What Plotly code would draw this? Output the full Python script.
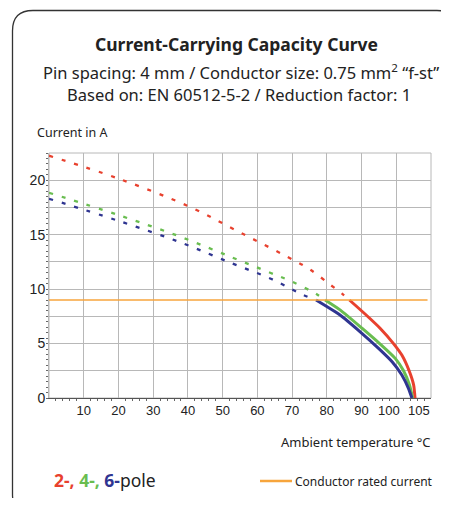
import plotly.graph_objects as go

# ---------------- data ----------------
red_dot_x = [0, 20, 40.6, 54.7, 62, 69, 74.9, 81, 84.3, 86.5]
red_dot_y = [22.25, 20.15, 17.55, 15.25, 14.07, 12.9, 11.86, 10.4, 9.6, 9.0]
red_sol_x = [86.5, 91.4, 95.4, 99.2, 101.6, 103.7, 105.0, 105.4]
red_sol_y = [9.0, 7.6, 6.39, 5.0, 3.94, 2.5, 1.19, 0.0]

green_dot_x = [0, 20, 37.9, 52.8, 63.7, 69.9, 76.7, 79.5]
green_dot_y = [18.85, 16.8, 14.8, 12.9, 11.5, 10.7, 9.6, 9.0]
green_sol_x = [79.5, 83.9, 90.2, 95.2, 99.7, 102.1, 103.8, 104.7]
green_sol_y = [9.0, 8.07, 6.39, 5.0, 3.64, 2.5, 1.19, 0.0]

blue_dot_x = [0, 20, 38.2, 52.8, 63.7, 70, 73.3, 76.9]
blue_dot_y = [18.3, 16.27, 14.25, 12.35, 10.98, 9.97, 9.45, 9.0]
blue_sol_x = [76.9, 83.9, 89.6, 94.9, 98.8, 101.6, 103.5, 104.5]
blue_sol_y = [9.0, 7.6, 6.08, 4.56, 3.33, 2.11, 0.89, 0.0]

rated_x = [0, 109]
rated_y = [9, 9]

x_tick_vals = [10, 20, 30, 40, 50, 60, 70, 80, 90]
x_tick_text = ["10", "20", "30", "40", "50", "60", "70", "80", "90"]
x_end_vals = [100, 105]
x_end_text = ["100", "105"]
y_tick_vals = [0, 2.5, 5, 7.5, 10, 12.5, 15, 17.5, 20]
y_tick_text = ["0", "", "5", "", "10", "", "15", "", "20"]

RED = "#e8412e"
GREEN = "#69bd50"
BLUE = "#2f3591"
ORANGE = "#f7a53c"
GRID = "#b8b8b8"
TXT = "#222222"

OFF = 8  # page body margin
W, H = 449 - OFF, 506 - 2 * OFF
L, R, T, B = 49 - OFF, 18, 153 - OFF, 100
PW, PH = W - L - R, H - T - B


def px(x):
    return (x - OFF - L) / PW


def py(y):
    return (H - B - (y - OFF)) / PH


fig = go.Figure()

DASH = "4px,9px"
for xs, ys, c in [(red_dot_x, red_dot_y, RED), (green_dot_x, green_dot_y, GREEN),
                  (blue_dot_x, blue_dot_y, BLUE)]:
    fig.add_trace(go.Scatter(x=xs, y=ys, mode="lines",
                             line=dict(color=c, width=2.3, dash=DASH, shape="spline"),
                             hoverinfo="skip", showlegend=False))

fig.add_trace(go.Scatter(x=rated_x, y=rated_y, mode="lines", xaxis="x2",
                         line=dict(color=ORANGE, width=1.6),
                         hoverinfo="skip", showlegend=False))

for xs, ys, c in [(red_sol_x, red_sol_y, RED), (green_sol_x, green_sol_y, GREEN),
                  (blue_sol_x, blue_sol_y, BLUE)]:
    fig.add_trace(go.Scatter(x=xs, y=ys, mode="lines",
                             line=dict(color=c, width=3, shape="spline", smoothing=0.6),
                             hoverinfo="skip", showlegend=False))

# rounded outer frame (right and bottom sides fall outside the picture)
frame = (f"M {px(15)} {py(506)} Q {px(12.5)} {py(502)} {px(12.5)} {py(494)} "
         f"L {px(12.5)} {py(31)} Q {px(12.5)} {py(10.5)} {px(33)} {py(10.5)} "
         f"L {px(437)} {py(10.5)} Q {px(446)} {py(10.5)} {px(448.5)} {py(15)}")

shapes = [
    dict(type="path", path=frame, xref="paper", yref="paper",
         line=dict(color="#333333", width=1.3), layer="below"),
    dict(type="rect", xref="paper", yref="paper", x0=0, x1=1, y0=0, y1=1,
         line=dict(color=GRID, width=1), layer="below"),
    dict(type="line", xref="paper", yref="paper", x0=px(260), x1=px(292),
         y0=py(481), y1=py(481), line=dict(color=ORANGE, width=2.5)),
]

FONT = "Noto Sans"
annotations = [
    dict(text="<b>Current-Carrying Capacity Curve</b>", x=px(236), y=py(44),
         font=dict(size=17.5, color=TXT, family=FONT)),
    dict(text="Pin spacing: 4 mm / Conductor size: 0.75 mm<sup>2</sup> \u201cf-st\u201d",
         x=px(241), y=py(72), font=dict(size=16.5, color=TXT, family=FONT)),
    dict(text="Based on: EN 60512-5-2 / Reduction factor: 1",
         x=px(239), y=py(94), font=dict(size=16.5, color=TXT, family=FONT)),
    dict(text="Current in A", x=px(35), y=py(133), xanchor="left",
         font=dict(size=12.5, color=TXT, family=FONT)),
    dict(text="Ambient temperature \u00b0C", x=px(433), y=py(442), xanchor="right",
         font=dict(size=13, color=TXT, family=FONT)),
    dict(text=(f"<b><span style='color:{RED}'>2-,</span> "
               f"<span style='color:{GREEN}'>4-,</span> "
               f"<span style='color:{BLUE}'>6-</span></b>pole"),
         x=px(52), y=py(480), xanchor="left",
         font=dict(size=17.5, color=TXT, family=FONT)),
    dict(text="Conductor rated current", x=px(435), y=py(481), xanchor="right",
         font=dict(size=12, color=TXT, family=FONT)),
]
for a in annotations:
    a.update(xref="paper", yref="paper", showarrow=False)
    a.setdefault("xanchor", "center")
    a.setdefault("yanchor", "middle")

# end tick labels (100 / 105) nudged apart as in the original
for v, t, sh in zip(x_end_vals, x_end_text, [-7, 5]):
    annotations.append(dict(text=t, x=v, xref="x", y=0, yref="paper",
                            xanchor="center", yanchor="top", yshift=-3, xshift=sh,
                            showarrow=False,
                            font=dict(family="Liberation Sans", size=13, color=TXT)))

fig.update_layout(
    width=W, height=H,
    margin=dict(l=L, r=R, t=T, b=B),
    paper_bgcolor="white", plot_bgcolor="white",
    showlegend=False,
    shapes=shapes, annotations=annotations,
    xaxis=dict(range=[0, 110], tickvals=x_tick_vals, ticktext=x_tick_text,
               tickangle=0,
               showgrid=False, zeroline=False, ticks="",
               showline=True, linecolor="#555555", linewidth=1,
               tickfont=dict(family="Liberation Sans", size=13, color=TXT)),
    xaxis2=dict(range=[0, 110], overlaying="x", side="bottom",
                dtick=10, tick0=0, showgrid=True, gridcolor=GRID, gridwidth=1,
                showticklabels=False, ticks="", zeroline=False, showline=False,
                minor=dict(dtick=2, ticks="outside", ticklen=2, tickcolor="#666666",
                           showgrid=False)),
    yaxis=dict(range=[0, 22.5], tickvals=y_tick_vals, ticktext=y_tick_text,
               showgrid=True, gridcolor=GRID, gridwidth=1, zeroline=False,
               ticks="", showline=True, linecolor=GRID,
               minor=dict(dtick=0.5, ticks="outside", ticklen=2, tickcolor="#666666",
                          showgrid=False),
               tickfont=dict(family="Liberation Sans", size=14, color=TXT)),
)

fig.write_html("out.html")
